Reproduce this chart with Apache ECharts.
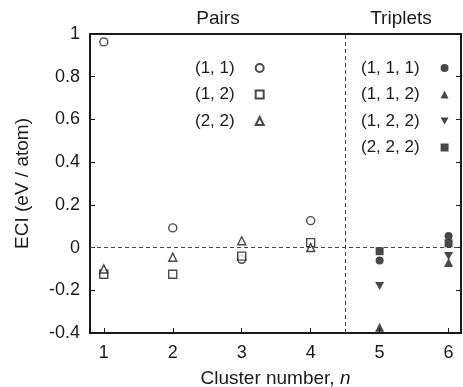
<!DOCTYPE html>
<html><head><meta charset="utf-8">
<script src="https://cdn.jsdelivr.net/npm/echarts@6/dist/echarts.min.js"></script>
<style>html,body{margin:0;padding:0;background:#fff}#c{width:463px;height:387px}</style>
</head><body><div id="c"></div>
<script>
const clusterN = [1, 2, 3, 4, 5, 6];
const yTicks = [-0.4, -0.2, 0, 0.2, 0.4, 0.6, 0.8, 1];
// Pairs (n = 1..4)
const pairNames = ['(1, 1)', '(1, 2)', '(2, 2)'];
const pair11 = [0.963, 0.092, -0.055, 0.126];
const pair12 = [-0.125, -0.125, -0.04, 0.023];
const pair22 = [-0.10, -0.045, 0.032, 0.0];
// Triplets (n = 5..6)
const tripNames = ['(1, 1, 1)', '(1, 1, 2)', '(1, 2, 2)', '(2, 2, 2)'];
const trip111 = [-0.061, 0.054];
const trip112 = [-0.373, -0.07];
const trip122 = [-0.18, -0.04];
const trip222 = [-0.017, 0.02];

const pairN = clusterN.slice(0, 4);
const tripN = clusterN.slice(4);
const zip = (xs, ys) => xs.map((x, i) => [x, ys[i]]);
const font = 'Liberation Sans, Arial, sans-serif';
const ink = '#1a1a1a';

const openStyle = {color: '#fff', borderColor: ink, borderWidth: 1.4};
const fillStyle = {color: ink, borderColor: ink, borderWidth: 0};
const downTri = 'path://M0,0L10,0L5,9Z';

const chart = echarts.init(document.getElementById('c'), null, {renderer: 'canvas'});
chart.setOption({
  animation: false,
  backgroundColor: '#fff',
  textStyle: {fontFamily: font},
  title: [
    {text: 'Pairs', left: 213, top: 4, textAlign: 'center', textStyle: {fontSize: 19, fontWeight: 'normal', color: ink, fontFamily: font}},
    {text: 'Triplets', left: 396, top: 4, textAlign: 'center', textStyle: {fontSize: 19, fontWeight: 'normal', color: ink, fontFamily: font}}
  ],
  legend: [
    {data: pairNames, orient: 'vertical', left: 190, top: 54, itemGap: 8.5, itemWidth: 8, itemHeight: 8,
     align: 'right',
     textStyle: {fontSize: 17, lineHeight: 18, color: ink, fontFamily: font, padding: [0, 16, 0, 0]}, selectedMode: false},
    {data: tripNames, orient: 'vertical', left: 356, top: 54, itemGap: 8.5, itemWidth: 8, itemHeight: 8,
     align: 'right',
     textStyle: {fontSize: 17, lineHeight: 18, color: ink, fontFamily: font, padding: [0, 16, 0, 0]}, selectedMode: false}
  ],
  grid: {left: 90, right: 2, top: 34, bottom: 54, outerBoundsMode: 'none', containLabel: false},
  xAxis: [
    {type: 'value', min: 0.8, max: 6.18, position: 'bottom',
     name: '{a|Cluster number, }{b|n}', nameLocation: 'middle', nameGap: 36,
     nameTextStyle: {rich: {a: {fontSize: 19, color: ink, fontFamily: font}, b: {fontSize: 19, color: ink, fontStyle: 'italic', fontFamily: font}}},
     axisLine: {show: true, onZero: false, lineStyle: {color: ink, width: 2}},
     axisTick: {show: true, inside: true, length: 5, lineStyle: {color: ink, width: 1}, customValues: clusterN},
     axisLabel: {fontSize: 18, color: ink, margin: 11, customValues: clusterN, formatter: v => String(v)},
     splitLine: {show: false}},
    {type: 'value', min: 0.8, max: 6.18, position: 'top',
     axisLine: {show: true, onZero: false, lineStyle: {color: ink, width: 2}},
     axisTick: {show: false}, axisLabel: {show: false}, splitLine: {show: false}}
  ],
  yAxis: [
    {type: 'value', min: -0.4, max: 1, interval: 0.2, position: 'left',
     name: 'ECI (eV / atom)', nameLocation: 'middle', nameGap: 58,
     nameTextStyle: {fontSize: 19, color: ink, fontFamily: font},
     axisLine: {show: true, onZero: false, lineStyle: {color: ink, width: 2}},
     axisTick: {show: true, inside: true, length: 5, lineStyle: {color: ink, width: 1}},
     axisLabel: {fontSize: 18, color: ink, margin: 10, formatter: v => String(Math.round(v * 10) / 10)},
     splitLine: {show: false}},
    {type: 'value', min: -0.4, max: 1, interval: 0.2, position: 'right',
     axisLine: {show: true, onZero: false, lineStyle: {color: ink, width: 2}},
     axisTick: {show: true, inside: true, length: 5, lineStyle: {color: ink, width: 1}},
     axisLabel: {show: false}, splitLine: {show: false}}
  ],
  series: [
    {name: '(1, 1)', type: 'scatter', symbol: 'circle', symbolSize: 8, itemStyle: openStyle, data: zip(pairN, pair11),
     markLine: {silent: true, symbol: 'none', label: {show: false},
       lineStyle: {type: [4, 3], color: '#444', width: 1},
       data: [{yAxis: 0}, {xAxis: 4.5}]}},
    {name: '(1, 2)', type: 'scatter', symbol: 'rect', symbolSize: 8, itemStyle: openStyle, data: zip(pairN, pair12)},
    {name: '(2, 2)', type: 'scatter', symbol: 'triangle', symbolSize: 8, itemStyle: openStyle, data: zip(pairN, pair22)},
    {name: '(1, 1, 1)', type: 'scatter', symbol: 'circle', symbolSize: 8, itemStyle: fillStyle, data: zip(tripN, trip111)},
    {name: '(1, 1, 2)', type: 'scatter', symbol: 'triangle', symbolSize: 9, itemStyle: fillStyle, data: zip(tripN, trip112)},
    {name: '(1, 2, 2)', type: 'scatter', symbol: downTri, symbolSize: [9, 8], itemStyle: fillStyle, data: zip(tripN, trip122)},
    {name: '(2, 2, 2)', type: 'scatter', symbol: 'rect', symbolSize: 8, itemStyle: fillStyle, data: zip(tripN, trip222)}
  ]
});
</script></body></html>
